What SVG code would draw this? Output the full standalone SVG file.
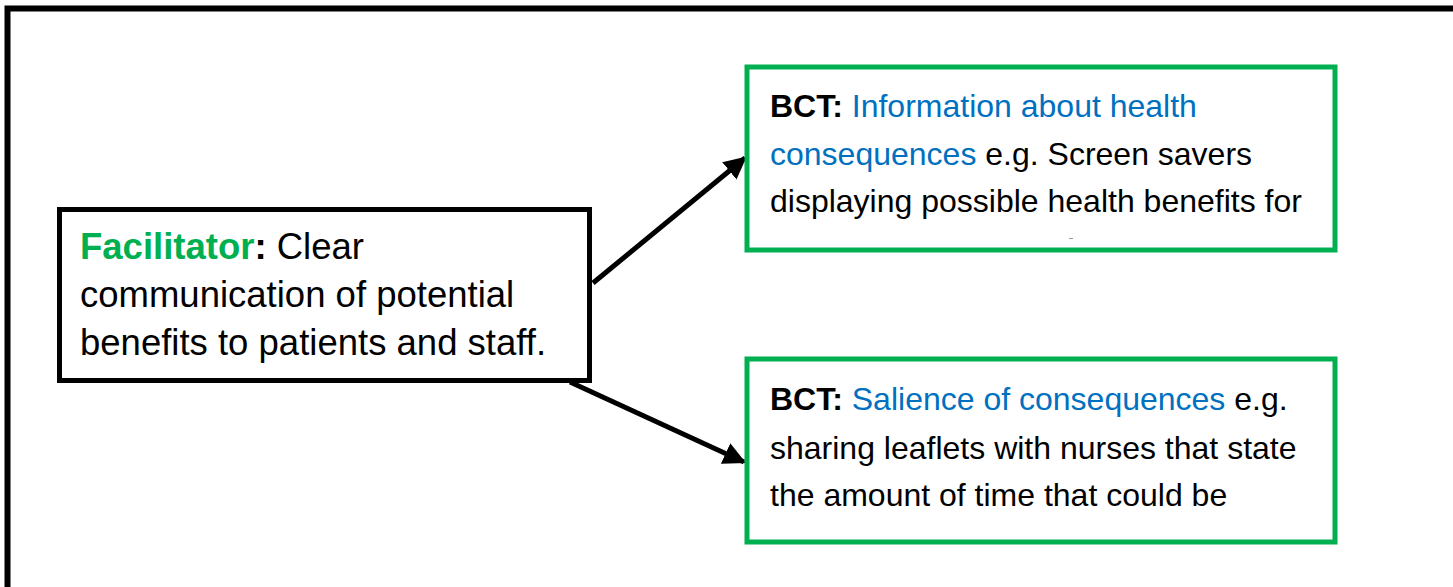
<svg xmlns="http://www.w3.org/2000/svg" width="1453" height="587" viewBox="0 0 1453 587">
<style>
text{font-family:"Liberation Sans",Arial,sans-serif;font-size:32px;fill:#000}
.l{font-size:36.5px}
.b{font-weight:bold}
.g{fill:#00B050}
.bl{fill:#0070C0}
.nb{fill:#fff;stroke:#000;stroke-width:5}
.gb{fill:#fff;stroke:#00B050;stroke-width:5}
.c{stroke:#000;stroke-width:5;fill:none;marker-end:url(#ah)}
</style>
<defs>
<marker id="ah" viewBox="0 0 10 10" refX="9" refY="5" markerWidth="4.5" markerHeight="4.5" orient="auto" markerUnits="strokeWidth">
<path d="M0,0 L10,5 L0,10 z" fill="#000"/>
</marker>
</defs>
<rect width="1453" height="587" fill="#fff"/>
<rect x="7.5" y="8.5" width="1460" height="600" fill="none" stroke="#000" stroke-width="6"/>
<g id="connectors">
<line class="c" x1="593" y1="283" x2="745" y2="158"/>
<line class="c" x1="570" y1="382" x2="744" y2="462"/>
</g>
<g id="facilitator">
<rect class="nb" x="59.5" y="209.5" width="530" height="171"/>
<text class="l" x="80" y="259"><tspan class="b g">Facilitator</tspan><tspan class="b">:</tspan> Clear</text>
<text class="l" x="80" y="307">communication of potential</text>
<text class="l" x="80" y="355">benefits to patients and staff.</text>
</g>
<g id="bct1">
<rect class="gb" x="747" y="67" width="588" height="183"/>
<text x="770" y="117"><tspan class="b">BCT:</tspan> <tspan class="bl">Information about health</tspan></text>
<text x="770" y="165"><tspan class="bl">consequences</tspan> e.g. Screen savers</text>
<text x="770" y="212">displaying possible health benefits for</text>
<rect x="1069" y="238" width="4" height="1" fill="#999"/>
</g>
<g id="bct2">
<rect class="gb" x="747" y="359" width="588" height="183"/>
<text x="770" y="410"><tspan class="b">BCT:</tspan> <tspan class="bl">Salience of consequences</tspan> e.g.</text>
<text x="770" y="459">sharing leaflets with nurses that state</text>
<text x="770" y="506">the amount of time that could be</text>
</g>
</svg>
